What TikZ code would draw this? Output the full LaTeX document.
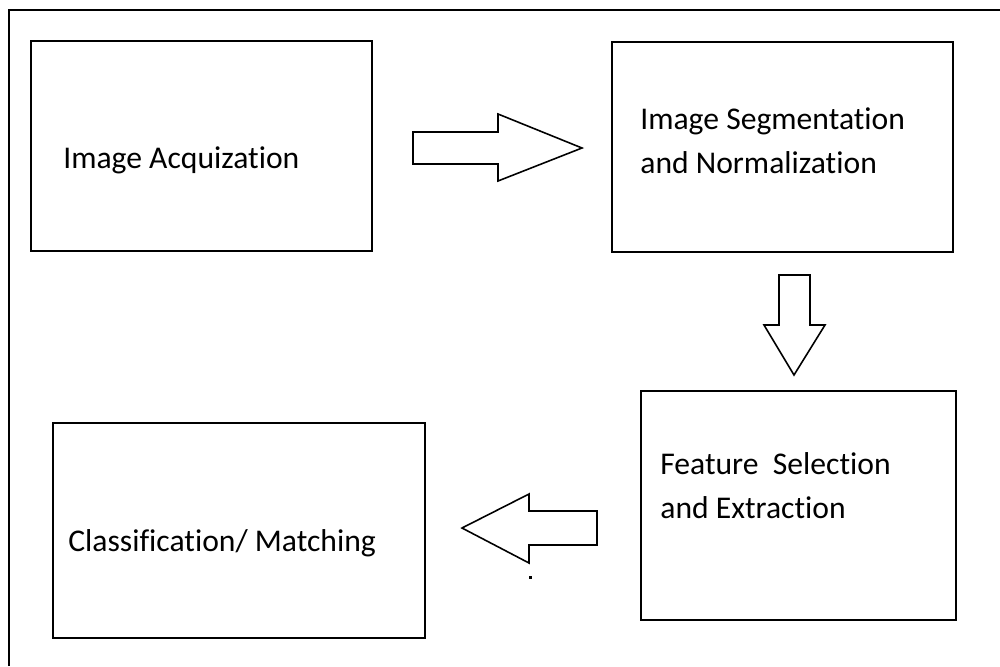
\documentclass[tikz,border=0pt]{standalone}
\usepackage{fontspec}
\setmainfont[Ligatures=NoCommon]{Carlito}

\tikzset{
  stagebox/.style={draw, line width=1.1pt, inner sep=0},
  stagetext/.style={anchor=base west, inner sep=0, font=\fontsize{18}{24.5}\selectfont, align=left},
  blockarrow/.style={draw, line width=0.9pt, line join=miter, fill=white},
}

\begin{document}
\begin{tikzpicture}[x=0.02cm,y=-0.02cm]
\useasboundingbox (0,0) rectangle (1000,666);

% outer frame (cut at right and bottom)
\draw[line width=0.9pt] (9,666) -- (9,10) -- (1000,10);

% the four stages
\node[stagebox, minimum width=6.82cm, minimum height=4.2cm] (acq) at (201.5,146) {};
\node[stagebox, minimum width=6.82cm, minimum height=4.2cm] (seg) at (782.5,147) {};
\node[stagebox, minimum width=6.3cm, minimum height=4.58cm] (feat) at (798.5,505.5) {};
\node[stagebox, minimum width=7.44cm, minimum height=4.3cm] (cls) at (239,530.5) {};

% labels (base = baseline of last line)
\node[stagetext] (acqtxt) at (63,168) {Image Acquization};
\node[stagetext] (segtxt) at (640,173) {Image Segmentation\\and Normalization};
\node[stagetext] (feattxt) at (660,518) {Feature\ \ Selection\\and Extraction};
\node[stagetext] (clstxt) at (68,551) {Classification/ Matching};

% block arrows between stages
\draw[blockarrow] (413,132) -- (498,132) -- (498,114) -- (582,148) -- (498,181) -- (498,164) -- (413,164) -- cycle;
\draw[blockarrow] (779,275) -- (810,275) -- (810,325) -- (825,325) -- (794,375) -- (764,325) -- (779,325) -- cycle;
\draw[blockarrow] (597,511) -- (529,511) -- (529,494) -- (462,528) -- (529,563) -- (529,545) -- (597,545) -- cycle;

\fill (528.5,575.5) rectangle (531.5,578.5);

\end{tikzpicture}
\end{document}
